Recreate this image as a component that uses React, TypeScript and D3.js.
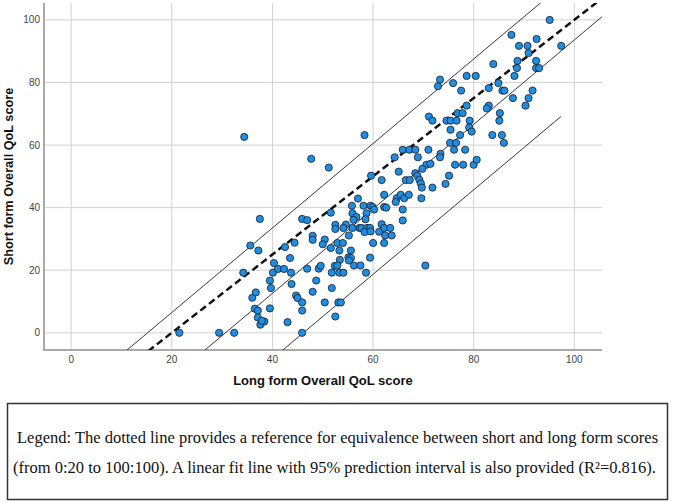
import React from 'react';
import * as d3 from 'd3';

const xTicks = [0, 20, 40, 60, 80, 100];
const yTicks = [0, 20, 40, 60, 80, 100];
const xDomain: [number, number] = [-5.4, 105.5];
const yDomain: [number, number] = [-5.5, 105.4];
const xTitle = 'Long form Overall QoL score';
const yTitle = 'Short form Overall QoL score';

// equivalence reference: 0 short ↔ 20 long, 100 ↔ 100
const equivalenceFrom: [number, number] = [20, 0];
const equivalenceTo: [number, number] = [100, 100];

// linear fit and 95% prediction interval
const fitSlope = 1.35;
const fitIntercept = -41.4;
const piHalfWidth = 20.9;

const legendLine1 = 'Legend: The dotted line provides a reference for equivalence between short and long form scores';
const legendLine2 = '(from 0:20 to 100:100). A linear fit line with 95% prediction interval is also provided (R²=0.816).';

// [long form score, short form score]
const qolScores: [number, number][] = [
  [21.5, 0], [29.4, 0], [32.4, 0], [45.9, 0],
  [37.5, 36.4], [35.6, 27.9], [37.2, 26.3], [34.2, 19.2], [36.0, 11.2], [36.7, 12.9], [36.5, 7.7], [37.1, 7.1],
  [37.1, 4.9], [37.6, 2.6], [38.4, 3.6], [37.9, 3.8],
  [39.5, 16.7], [39.7, 14.3], [39.5, 7.8], [40.1, 19.2], [40.3, 22.3], [41.1, 20.4], [42.3, 20.4], [42.5, 27.4],
  [44.4, 28.8], [43.5, 23.9], [43.7, 19.2], [43.8, 15.6], [43.0, 3.4], [44.7, 11.9], [45.0, 11.1], [45.9, 9.7],
  [45.9, 7.1], [45.9, 36.4], [46.9, 36.0], [46.9, 20.5], [48.0, 13.1], [48.7, 16.7], [49.2, 20.5], [49.6, 21.4],
  [48.0, 31.0], [48.0, 29.7], [50.4, 29.8], [50.0, 28.3], [50.4, 9.7], [51.6, 38.4], [51.6, 27.1], [51.8, 19.2],
  [51.8, 14.3], [52.5, 34.5], [52.5, 33.2], [52.5, 5.2], [52.4, 21.4],
  [34.4, 62.6], [47.7, 55.6], [51.2, 52.8],
  [62.2, 44.1], [57.0, 42.9], [64.7, 43.0], [65.5, 44.1], [66.2, 43.0], [67.1, 44.1], [64.5, 41.8], [65.9, 39.4],
  [69.6, 43.0], [55.8, 40.6], [58.1, 40.6], [59.5, 40.6], [59.9, 40.2], [60.2, 39.4], [62.2, 40.2], [62.6, 40.0],
  [55.9, 38.2], [56.7, 37.0], [56.1, 36.1], [58.7, 38.2], [58.5, 36.3], [65.9, 35.9],
  [54.6, 34.6], [54.1, 33.5], [55.9, 33.5], [57.3, 33.5], [57.7, 33.5], [58.8, 33.5], [59.4, 33.5], [58.3, 32.2],
  [59.5, 32.4], [61.2, 32.3], [61.7, 34.7], [62.2, 33.5], [63.4, 33.5], [62.4, 31.1], [63.7, 31.1], [55.2, 31.1],
  [52.9, 28.7], [54.0, 28.7], [60.0, 28.7], [62.2, 28.7], [53.3, 26.3], [55.6, 26.3], [53.4, 23.3], [55.1, 24.1],
  [55.6, 23.9], [55.2, 23.1], [59.4, 24.0],
  [52.9, 21.5], [56.2, 21.5], [57.5, 21.5], [53.3, 19.2], [54.1, 19.2], [58.6, 19.2], [70.4, 21.5], [53.1, 9.7],
  [53.6, 9.7],
  [95.1, 100.0], [87.5, 95.2], [92.5, 93.9], [89.0, 91.7], [90.7, 91.7], [97.4, 91.7], [90.9, 89.4], [83.9, 85.9],
  [88.7, 86.9], [92.4, 86.9], [88.6, 84.6], [92.4, 84.6], [93.0, 84.6], [88.1, 82.1], [78.6, 82.1], [80.4, 82.1],
  [73.3, 80.9], [72.9, 78.8], [75.9, 79.8], [77.5, 77.4], [83.0, 78.2], [84.9, 79.8], [85.7, 77.4], [86.1, 77.4],
  [91.7, 77.4], [87.8, 75.0], [90.9, 75.0], [90.3, 72.6], [78.6, 72.6], [83.0, 72.6], [82.6, 71.7], [85.2, 70.2],
  [76.8, 70.2], [77.8, 70.2], [71.1, 69.1], [71.8, 67.8], [58.3, 63.2], [74.6, 67.8], [75.4, 67.8], [76.6, 67.8],
  [79.2, 67.8], [85.1, 67.8], [75.4, 64.9], [79.1, 65.6], [79.6, 64.3], [77.3, 63.2], [83.7, 63.2], [85.6, 63.2],
  [86.0, 60.7], [75.3, 60.7], [76.5, 60.7], [71.0, 58.5], [76.1, 58.5], [78.3, 58.5], [65.9, 58.5], [67.2, 58.5],
  [68.4, 58.5], [68.9, 56.1], [64.3, 56.1], [73.4, 57.2], [73.3, 56.1], [76.3, 53.7], [77.9, 53.7], [80.0, 53.7],
  [80.6, 55.3], [70.6, 53.7], [71.4, 54.0], [69.8, 52.4], [65.1, 51.5], [68.4, 51.0], [68.8, 50.2], [61.7, 48.8],
  [59.6, 50.2], [66.5, 48.8], [67.3, 48.8], [69.2, 48.9], [69.5, 47.7], [75.1, 50.2], [74.4, 47.6], [71.8, 46.4],
  [69.7, 46.4],
];

export default function App() {
  const W = 676;
  const H = 502;
  const plot = { left: 44, right: 602, top: 3, bottom: 350 };
  const x = d3.scaleLinear().domain(xDomain).range([plot.left, plot.right]);
  const y = d3.scaleLinear().domain(yDomain).range([plot.bottom, plot.top]);
  const line = d3
    .line<[number, number]>()
    .x((d) => x(d[0]))
    .y((d) => y(d[1]));

  const eqSlope = (equivalenceTo[1] - equivalenceFrom[1]) / (equivalenceTo[0] - equivalenceFrom[0]);
  const eqFn = (v: number) => equivalenceFrom[1] + eqSlope * (v - equivalenceFrom[0]);
  const fitFn = (v: number) => fitIntercept + fitSlope * v;
  const maxX = d3.max(qolScores, (d) => d[0]) as number;

  const eqLine: [number, number][] = xDomain.map((v) => [v, eqFn(v)] as [number, number]);
  const fitLine: [number, number][] = xDomain.map((v) => [v, fitFn(v)] as [number, number]);
  const piRange = [xDomain[0], maxX];
  const upperLine: [number, number][] = piRange.map((v) => [v, fitFn(v) + piHalfWidth] as [number, number]);
  const lowerLine: [number, number][] = piRange.map((v) => [v, fitFn(v) - piHalfWidth] as [number, number]);

  const sans = '"Liberation Sans", Arial, Helvetica, sans-serif';
  const serif = '"Liberation Serif", "Times New Roman", Times, serif';

  return (
    <svg
      width={W}
      height={H}
      viewBox={`0 0 ${W} ${H}`}
      style={{ position: 'absolute', left: 0, top: 0, background: '#ffffff' }}
    >
      <defs>
        <clipPath id="plotClip">
          <rect x={plot.left} y={plot.top} width={plot.right - plot.left} height={plot.bottom - plot.top} />
        </clipPath>
      </defs>
      <rect x={0} y={0} width={W} height={H} fill="#ffffff" />

      {/* grid */}
      {xTicks.map((t) => (
        <line key={`gx${t}`} x1={x(t)} x2={x(t)} y1={plot.top} y2={plot.bottom} stroke="#d2d2d2" strokeWidth={1} />
      ))}
      {yTicks.map((t) => (
        <line key={`gy${t}`} x1={plot.left} x2={plot.right} y1={y(t)} y2={y(t)} stroke="#d2d2d2" strokeWidth={1} />
      ))}

      {/* axes */}
      <line x1={plot.left} x2={plot.left} y1={plot.top} y2={plot.bottom + 1} stroke="#a9a9a9" strokeWidth={2} />
      <line x1={plot.left - 1} x2={plot.right} y1={plot.bottom} y2={plot.bottom} stroke="#a9a9a9" strokeWidth={2} />

      {/* tick labels */}
      {xTicks.map((t) => (
        <text key={`tx${t}`} x={x(t)} y={plot.bottom + 13} textAnchor="middle" fontFamily={sans} fontSize={10} fill="#444">
          {t}
        </text>
      ))}
      {yTicks.map((t) => (
        <text key={`ty${t}`} x={plot.left - 4} y={y(t) + 3.5} textAnchor="end" fontFamily={sans} fontSize={10} fill="#444">
          {t}
        </text>
      ))}

      {/* reference and fit lines */}
      <g clipPath="url(#plotClip)">
        <path d={line(upperLine) || ''} fill="none" stroke="#3a3a3a" strokeWidth={1} />
        <path d={line(fitLine) || ''} fill="none" stroke="#3a3a3a" strokeWidth={1} />
        <path d={line(lowerLine) || ''} fill="none" stroke="#3a3a3a" strokeWidth={1} />
        <path d={line(eqLine) || ''} fill="none" stroke="#111" strokeWidth={2.5} strokeDasharray="7,4" />
      </g>

      {/* points */}
      <g>
        {qolScores.map((d, i) => (
          <circle key={i} cx={x(d[0])} cy={y(d[1])} r={3.6} fill="#1f8ee0" stroke="#1a1a2a" strokeWidth={0.8} />
        ))}
      </g>

      {/* axis titles */}
      <text x={(plot.left + plot.right) / 2} y={385} textAnchor="middle" fontFamily={sans} fontSize={13} fontWeight="bold" fill="#111">
        {xTitle}
      </text>
      <text
        transform={`translate(13, ${(plot.top + plot.bottom) / 2}) rotate(-90)`}
        textAnchor="middle"
        fontFamily={sans}
        fontSize={12.7}
        fontWeight="bold"
        fill="#111"
      >
        {yTitle}
      </text>

      {/* legend box */}
      <rect x={7.5} y={403.5} width={660} height={96} fill="#fff" stroke="#333" strokeWidth={1.5} />
      <text x={17} y={443} fontFamily={serif} fontSize={16.5} fill="#111">
        {legendLine1}
      </text>
      <text x={13} y={473} fontFamily={serif} fontSize={16.5} fill="#111">
        {legendLine2}
      </text>
    </svg>
  );
}
